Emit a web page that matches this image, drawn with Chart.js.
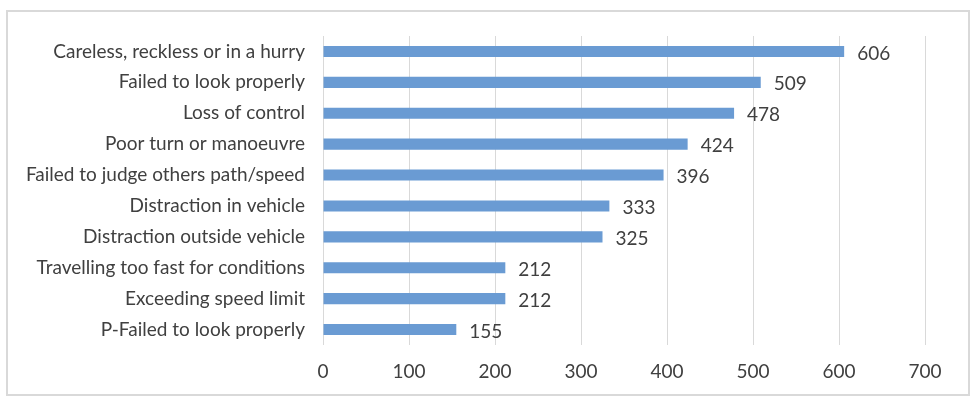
<!DOCTYPE html>
<html><head><meta charset="utf-8">
<script src="https://cdn.jsdelivr.net/npm/chart.js@4"></script>
<style>html,body{margin:0;padding:0;background:#fff;}#wrap{position:absolute;left:0;top:0;width:976px;height:402px;}</style>
</head><body><div id="wrap"><canvas id="c" width="976" height="402"></canvas></div>
<script>
const categories = ["Careless, reckless or in a hurry","Failed to look properly","Loss of control","Poor turn or manoeuvre","Failed to judge others path/speed","Distraction in vehicle","Distraction outside vehicle","Travelling too fast for conditions","Exceeding speed limit","P-Failed to look properly"];
const values = [606,509,478,424,396,333,325,212,212,155];
const xTicks = [0,100,200,300,400,500,600,700];

const FONT = "Lato, 'Open Sans', sans-serif";
const FS = 19;
const TXT = '#404040';

const frame = {
  id:'frame',
  beforeDraw(chart){
    const ctx = chart.ctx; ctx.save();
    ctx.fillStyle='#fff'; ctx.fillRect(0,0,chart.width,chart.height);
    ctx.strokeStyle='#d9d9d9'; ctx.lineWidth=2;
    ctx.strokeRect(7,11,962,384);
    ctx.restore();
  }
};
const valueLabels = {
  id:'valueLabels',
  afterDatasetsDraw(chart){
    const ctx = chart.ctx; ctx.save();
    ctx.fillStyle=TXT; ctx.font=FS+"px "+FONT; ctx.textBaseline='middle'; ctx.textAlign='left';
    const meta = chart.getDatasetMeta(0);
    meta.data.forEach((bar,i)=>{ ctx.fillText(String(values[i]), bar.x+13, bar.y+2); });
    ctx.restore();
  }
};

new Chart(document.getElementById('c'),{
  type:'bar',
  data:{labels:categories,datasets:[{data:values,backgroundColor:'#6A9BD3',barPercentage:0.36,categoryPercentage:1.0}]},
  options:{
    indexAxis:'y',responsive:false,animation:false,
    layout:{padding:{left:0,top:36,right:51,bottom:0}},
    plugins:{legend:{display:false},tooltip:{enabled:false}},
    scales:{
      x:{min:0,max:700,
        afterBuildTicks(s){ s.ticks = xTicks.map(v=>({value:v})); },
        afterFit(s){ s.height=57; },
        grid:{color:'#d9d9d9',lineWidth:1,drawTicks:false},
        border:{display:false},
        ticks:{color:TXT,font:{size:FS,family:FONT},padding:15}
      },
      y:{
        afterFit(s){ s.width=323; },
        grid:{display:false,drawTicks:false},
        border:{display:false},
        ticks:{color:TXT,font:{size:FS,family:FONT},padding:18}
      }
    }
  },
  plugins:[frame,valueLabels]
});
</script></body></html>
